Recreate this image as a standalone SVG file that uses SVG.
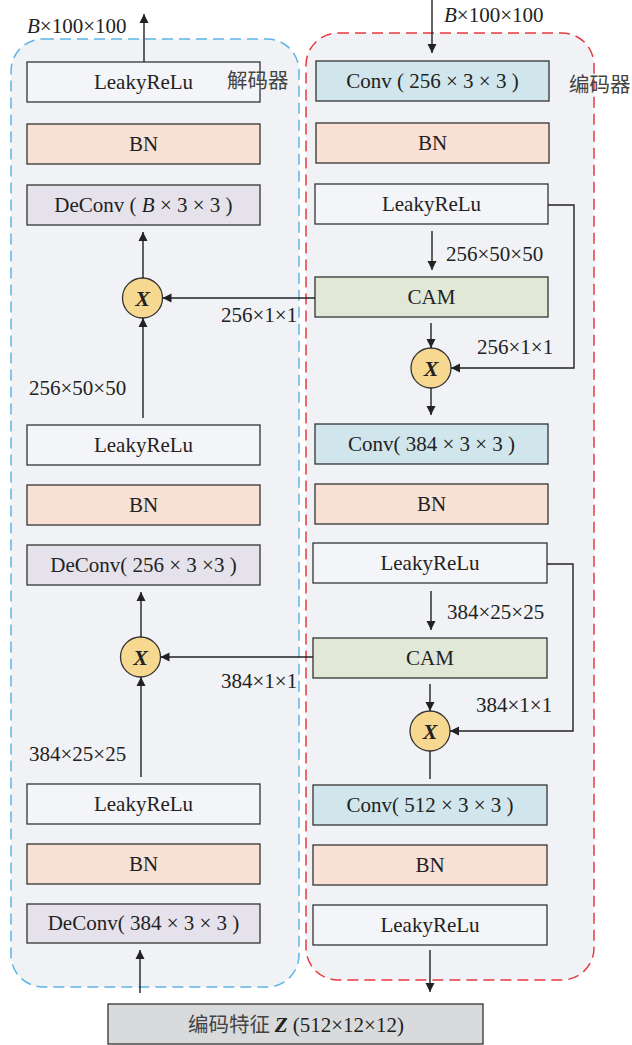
<svg xmlns="http://www.w3.org/2000/svg" width="632" height="1045" viewBox="0 0 632 1045">
  <style>
    .box { stroke: #333; stroke-width: 1.3; }
    .lrelu { fill: #f3f5f8; }
    .bn { fill: #f9e1d5; }
    .deconv { fill: #e6e2ec; }
    .conv { fill: #d1e6ec; }
    .cam { fill: #e2e8d7; }
    .mul { fill: #f6d891; stroke: #333; stroke-width: 1.3; }
    .t { font-family: "Liberation Serif", "Times New Roman", serif; font-size: 21px; fill: #222; }
    .c { text-anchor: middle; }
    .cjk { font-family: "Noto Sans CJK SC", sans-serif; font-size: 20.5px; fill: #444; }
    .x { font-family: "Liberation Serif", serif; font-size: 22px; font-weight: bold; font-style: italic; fill: #222; text-anchor: middle; }
    .ln { stroke: #222; stroke-width: 1.4; fill: none; }
  </style>
  <defs>
    <marker id="ah" viewBox="0 0 10 10" refX="10" refY="5" markerWidth="9" markerHeight="12" markerUnits="userSpaceOnUse" orient="auto">
      <path d="M0,0 L10,5 L0,10 z" fill="#222"/>
    </marker>
  </defs>

  <!-- containers -->
  <g id="decoder-frame">
    <rect x="11" y="39" width="288" height="948" rx="32" fill="#f0f2f5" stroke="#5cb5e6" stroke-width="1.5" stroke-dasharray="11 6"/>
  </g>
  <g id="encoder-frame">
    <rect x="306" y="33" width="288" height="947" rx="32" fill="#f0f2f5" stroke="#e63a3f" stroke-width="1.5" stroke-dasharray="11 6"/>
  </g>

  <!-- decoder column -->
  <g id="dec-lrelu1"><rect class="box lrelu" x="27" y="62" width="233" height="40"/><text class="t c" x="143.5" y="89">LeakyReLu</text></g>
  <g id="dec-bn1"><rect class="box bn" x="27" y="124" width="233" height="40"/><text class="t c" x="143.5" y="151">BN</text></g>
  <g id="dec-deconv1"><rect class="box deconv" x="27" y="185" width="233" height="40"/><text class="t c" x="143.5" y="212">DeConv ( <tspan font-style="italic">B</tspan> × 3 × 3 )</text></g>
  <g id="dec-mul1"><circle class="mul" cx="142.5" cy="298" r="20"/><text class="x" x="142.5" y="305.5">X</text></g>
  <g id="dec-lrelu2"><rect class="box lrelu" x="27" y="425" width="233" height="40"/><text class="t c" x="143.5" y="452">LeakyReLu</text></g>
  <g id="dec-bn2"><rect class="box bn" x="27" y="485" width="233" height="40"/><text class="t c" x="143.5" y="512">BN</text></g>
  <g id="dec-deconv2"><rect class="box deconv" x="27" y="545" width="233" height="40"/><text class="t c" x="143.5" y="572">DeConv( 256 × 3 ×3 )</text></g>
  <g id="dec-mul2"><circle class="mul" cx="140.5" cy="657" r="20"/><text class="x" x="140.5" y="664.5">X</text></g>
  <g id="dec-lrelu3"><rect class="box lrelu" x="27" y="784" width="233" height="40"/><text class="t c" x="143.5" y="811">LeakyReLu</text></g>
  <g id="dec-bn3"><rect class="box bn" x="27" y="844" width="233" height="40"/><text class="t c" x="143.5" y="871">BN</text></g>
  <g id="dec-deconv3"><rect class="box deconv" x="27" y="904" width="233" height="39"/><text class="t c" x="143.5" y="930">DeConv( 384 × 3 × 3 )</text></g>

  <!-- encoder column -->
  <g id="enc-conv1"><rect class="box conv" x="316" y="61" width="233" height="40"/><text class="t c" x="432.5" y="88">Conv ( 256 × 3 × 3 )</text></g>
  <g id="enc-bn1"><rect class="box bn" x="316" y="123" width="233" height="40"/><text class="t c" x="432.5" y="150">BN</text></g>
  <g id="enc-lrelu1"><rect class="box lrelu" x="315" y="184" width="233" height="40"/><text class="t c" x="431.5" y="211">LeakyReLu</text></g>
  <g id="enc-cam1"><rect class="box cam" x="315" y="277" width="233" height="40"/><text class="t c" x="431.5" y="304">CAM</text></g>
  <g id="enc-mul1"><circle class="mul" cx="431" cy="368" r="20"/><text class="x" x="431" y="375.5">X</text></g>
  <g id="enc-conv2"><rect class="box conv" x="315" y="424" width="233" height="40"/><text class="t c" x="431.5" y="451">Conv( 384 × 3 × 3 )</text></g>
  <g id="enc-bn2"><rect class="box bn" x="315" y="484" width="233" height="40"/><text class="t c" x="431.5" y="511">BN</text></g>
  <g id="enc-lrelu2"><rect class="box lrelu" x="313" y="543" width="234" height="40"/><text class="t c" x="430" y="570">LeakyReLu</text></g>
  <g id="enc-cam2"><rect class="box cam" x="313" y="638" width="234" height="40"/><text class="t c" x="430" y="665">CAM</text></g>
  <g id="enc-mul2"><circle class="mul" cx="430" cy="731" r="20"/><text class="x" x="430" y="738.5">X</text></g>
  <g id="enc-conv3"><rect class="box conv" x="313" y="785" width="234" height="40"/><text class="t c" x="430" y="812">Conv( 512 × 3 × 3 )</text></g>
  <g id="enc-bn3"><rect class="box bn" x="313" y="845" width="234" height="40"/><text class="t c" x="430" y="872">BN</text></g>
  <g id="enc-lrelu3"><rect class="box lrelu" x="313" y="905" width="234" height="40"/><text class="t c" x="430" y="932">LeakyReLu</text></g>

  <!-- latent code -->
  <g id="latent"><rect class="box" fill="#d9dadb" x="108" y="1004" width="375" height="40"/>
    <text class="t c" x="296" y="1032"><tspan font-family="'Noto Sans CJK SC', sans-serif" font-size="20.5" fill="#444">编码特征 </tspan><tspan font-weight="bold" font-style="italic">Z</tspan> (512×12×12)</text>
  </g>

  <!-- connectors -->
  <g id="connectors">
    <line class="ln" x1="144" y1="62" x2="144" y2="14" marker-end="url(#ah)"/>
    <line class="ln" x1="143" y1="278" x2="143" y2="232" marker-end="url(#ah)"/>
    <line class="ln" x1="143" y1="418" x2="143" y2="318" marker-end="url(#ah)"/>
    <line class="ln" x1="315" y1="298" x2="162.5" y2="298" marker-end="url(#ah)"/>
    <line class="ln" x1="141" y1="637" x2="141" y2="592" marker-end="url(#ah)"/>
    <line class="ln" x1="141" y1="777" x2="141" y2="677" marker-end="url(#ah)"/>
    <line class="ln" x1="313" y1="657" x2="160.5" y2="657" marker-end="url(#ah)"/>
    <line class="ln" x1="140" y1="993" x2="140" y2="950" marker-end="url(#ah)"/>

    <line class="ln" x1="432" y1="0" x2="432" y2="53" marker-end="url(#ah)"/>
    <line class="ln" x1="432" y1="231" x2="432" y2="270" marker-end="url(#ah)"/>
    <line class="ln" x1="431" y1="323" x2="431" y2="348" marker-end="url(#ah)"/>
    <polyline class="ln" points="548,205 574,205 574,368 451,368" marker-end="url(#ah)"/>
    <line class="ln" x1="431" y1="388" x2="431" y2="415" marker-end="url(#ah)"/>
    <line class="ln" x1="431" y1="591" x2="431" y2="630" marker-end="url(#ah)"/>
    <line class="ln" x1="430" y1="684" x2="430" y2="711" marker-end="url(#ah)"/>
    <polyline class="ln" points="547,564 573,564 573,731 450,731" marker-end="url(#ah)"/>
    <line class="ln" x1="430" y1="751" x2="430" y2="779"/>
    <line class="ln" x1="430" y1="950" x2="430" y2="992" marker-end="url(#ah)"/>
  </g>

  <!-- tensor size labels -->
  <g id="labels">
    <text class="t" x="27" y="33"><tspan font-style="italic">B</tspan>×100×100</text>
    <text class="t" x="444" y="22"><tspan font-style="italic">B</tspan>×100×100</text>
    <text class="cjk" x="227" y="88">解码器</text>
    <text class="cjk" x="569" y="92">编码器</text>
    <text class="t" x="446" y="261">256×50×50</text>
    <text class="t" x="221" y="322">256×1×1</text>
    <text class="t" x="477" y="354">256×1×1</text>
    <text class="t" x="29" y="395">256×50×50</text>
    <text class="t" x="447" y="619">384×25×25</text>
    <text class="t" x="221" y="688">384×1×1</text>
    <text class="t" x="476" y="712">384×1×1</text>
    <text class="t" x="29" y="761">384×25×25</text>
  </g>
</svg>
